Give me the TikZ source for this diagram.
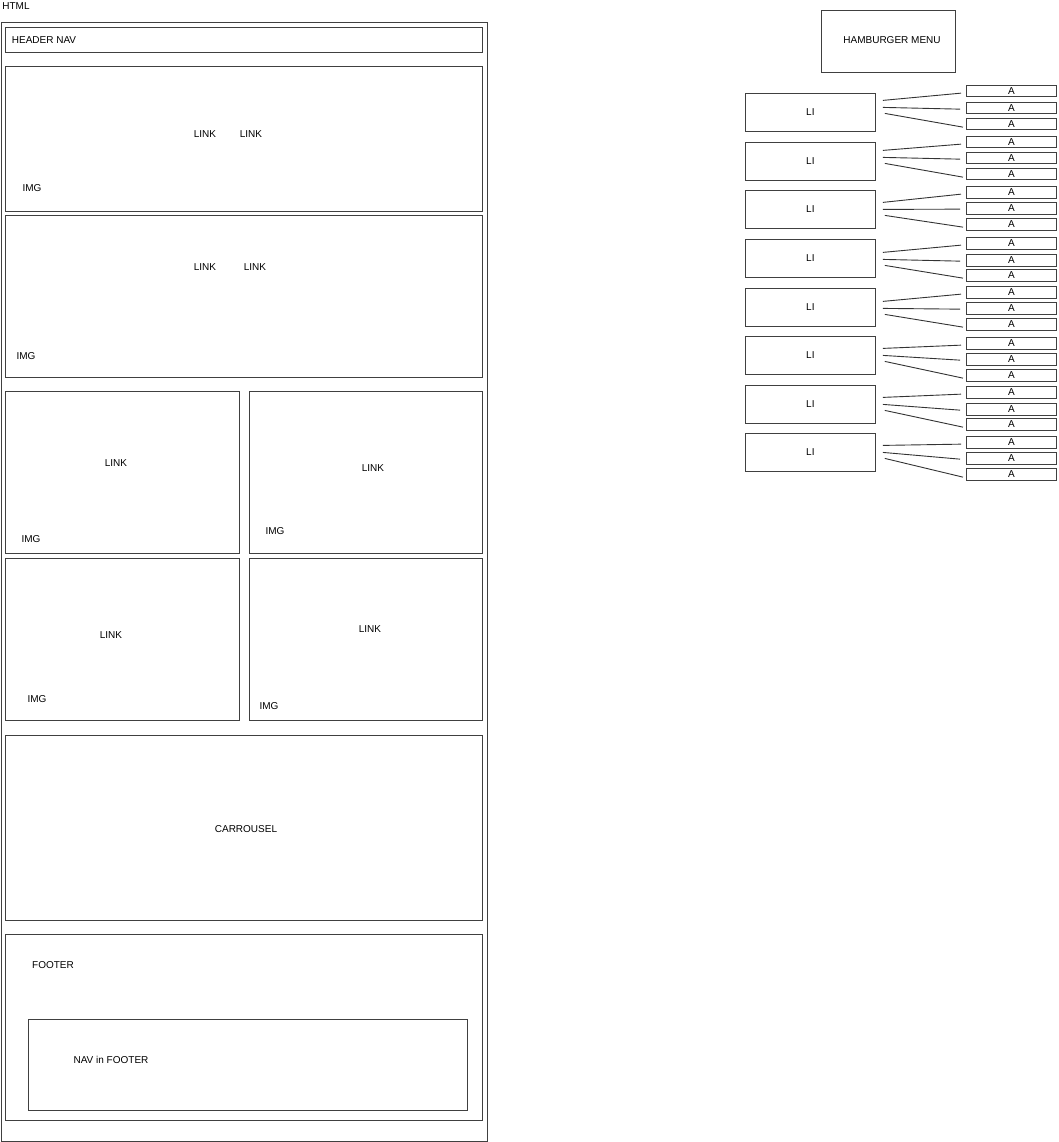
\documentclass[tikz,border=0pt]{standalone}
\usepackage{fontspec}
\setmainfont{Liberation Sans}
\usetikzlibrary{positioning}

\begin{document}
\begin{tikzpicture}[
    x=1pt, y=-1pt,
    every node/.style={font=\fontsize{10}{12}\selectfont},
    block/.style={
        draw=black!75,
        line width=0.8pt,
        anchor=north west,
        inner sep=0pt
    },
    libox/.style={
        block,
        minimum width=130pt,
        minimum height=38pt
    },
    abox/.style={
        block,
        minimum width=90pt,
        minimum height=11.5pt
    },
    lbl/.style={inner sep=0pt},
    wire/.style={draw=black!80, line width=0.9pt}
]
\useasboundingbox (0,0) rectangle (1058,1142);

% Page wireframe
\node[lbl] (html) at (16,6) {HTML};
\node[block, minimum width=486pt, minimum height=1119pt] (page) at (1,22) {};

\node[block, minimum width=477pt, minimum height=25pt] (header) at (5,27) {};
\node[lbl] at (44,40) {HEADER NAV};

% Hero blocks
\node[block, minimum width=477pt, minimum height=145pt] (hero1) at (5,66) {};
\node[lbl] at (205,134) {LINK};
\node[lbl] at (251,134) {LINK};
\node[lbl] at (32,188) {IMG};

\node[block, minimum width=477pt, minimum height=162pt] (hero2) at (5,215) {};
\node[lbl] at (205,267) {LINK};
\node[lbl] at (255,267) {LINK};
\node[lbl] at (26,356) {IMG};

% Card grid
\node[block, minimum width=234pt, minimum height=162pt] (card1) at (5,391) {};
\node[lbl] at (116,463) {LINK};
\node[lbl] at (31,539) {IMG};

\node[block, minimum width=233pt, minimum height=162pt] (card2) at (249,391) {};
\node[lbl] at (373,468) {LINK};
\node[lbl] at (275,531) {IMG};

\node[block, minimum width=234pt, minimum height=162pt] (card3) at (5,558) {};
\node[lbl] at (111,635) {LINK};
\node[lbl] at (37,699) {IMG};

\node[block, minimum width=233pt, minimum height=162pt] (card4) at (249,558) {};
\node[lbl] at (370,629) {LINK};
\node[lbl] at (269,706) {IMG};

% Carrousel and footer
\node[block, minimum width=477pt, minimum height=185pt] (carrousel) at (5,735) {};
\node[lbl] at (246,829) {CARROUSEL};

\node[block, minimum width=477pt, minimum height=186pt] (footer) at (5,934) {};
\node[lbl] at (53,965) {FOOTER};
\node[block, minimum width=439pt, minimum height=91pt] (footnav) at (28,1019) {};
\node[lbl] at (111,1060) {NAV in FOOTER};

% Hamburger menu
\node[block, minimum width=134pt, minimum height=62pt] (burger) at (821,10) {};
\node[lbl] at (892,40) {HAMBURGER MENU};

\foreach \n/\t/\s/\ta/\tb/\tc in {1/93/5/85/102/118, 2/142/4/136/152/168,
        3/190/0/186/202/218, 4/239/-1/237/254/269, 5/288/-1/286/302/318,
        6/336/0/337/353/369, 7/385/0/386/403/418, 8/433/0/436/452/468} {
    \node[libox] (li\n) at (745,\t) {LI};
    \node[abox] (a\n-1) at (966,\ta) {A};
    \node[abox] (a\n-2) at (966,\tb) {A};
    \node[abox] (a\n-3) at (966,\tc) {A};
    \draw[wire] ([xshift=7pt, yshift=7pt+\s pt]li\n.east) -- ([xshift=-5pt, yshift=-2pt]a\n-1.west);
    \draw[wire] ([xshift=7pt, yshift=0pt+\s pt]li\n.east) -- ([xshift=-6pt, yshift=-1pt]a\n-2.west);
    \draw[wire] ([xshift=9pt, yshift=-6pt+\s pt]li\n.east) -- ([xshift=-3pt, yshift=-3pt]a\n-3.west);
}

\end{tikzpicture}
\end{document}
